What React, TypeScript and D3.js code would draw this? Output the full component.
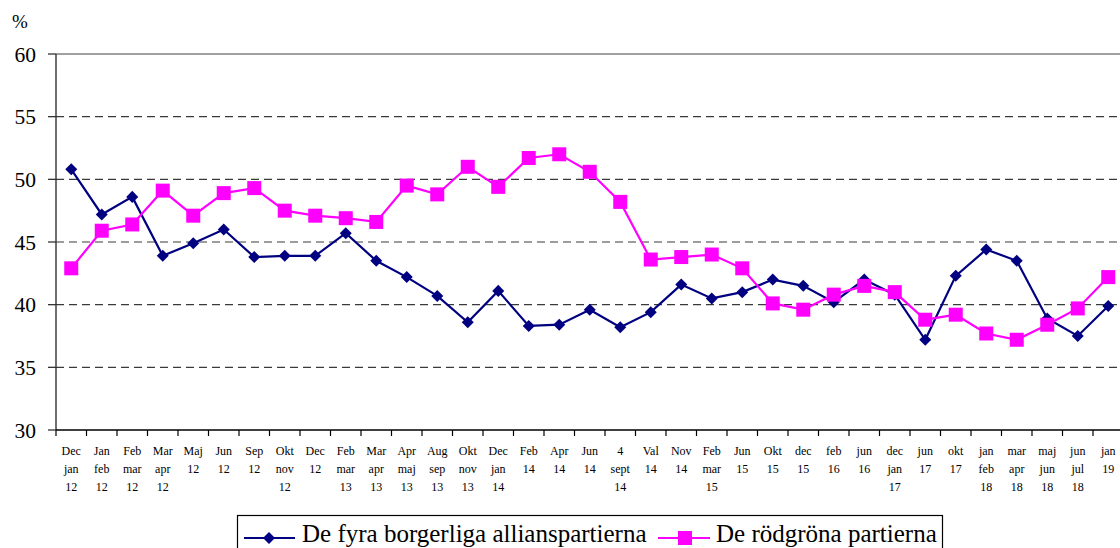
import React from "react";
import * as d3 from "d3";

const categories: string[][] = [
  ["Dec", "jan", "12"], ["Jan", "feb", "12"], ["Feb", "mar", "12"], ["Mar", "apr", "12"],
  ["Maj", "12"], ["Jun", "12"], ["Sep", "12"], ["Okt", "nov", "12"], ["Dec", "12"],
  ["Feb", "mar", "13"], ["Mar", "apr", "13"], ["Apr", "maj", "13"], ["Aug", "sep", "13"],
  ["Okt", "nov", "13"], ["Dec", "jan", "14"], ["Feb", "14"], ["Apr", "14"], ["Jun", "14"],
  ["4", "sept", "14"], ["Val", "14"], ["Nov", "14"], ["Feb", "mar", "15"], ["Jun", "15"],
  ["Okt", "15"], ["dec", "15"], ["feb", "16"], ["jun", "16"], ["dec", "jan", "17"],
  ["jun", "17"], ["okt", "17"], ["jan", "feb", "18"], ["mar", "apr", "18"],
  ["maj", "jun", "18"], ["jun", "jul", "18"], ["jan", "19"],
];

const alliansen: number[] = [
  50.8, 47.2, 48.6, 43.9, 44.9, 46.0, 43.8, 43.9, 43.9, 45.7, 43.5, 42.2, 40.7, 38.6, 41.1,
  38.3, 38.4, 39.6, 38.2, 39.4, 41.6, 40.5, 41.0, 42.0, 41.5, 40.2, 42.0, 40.8, 37.2, 42.3,
  44.4, 43.5, 38.9, 37.5, 39.9,
];

const rodgrona: number[] = [
  42.9, 45.9, 46.4, 49.1, 47.1, 48.9, 49.3, 47.5, 47.1, 46.9, 46.6, 49.5, 48.8, 51.0, 49.4,
  51.7, 52.0, 50.6, 48.2, 43.6, 43.8, 44.0, 42.9, 40.1, 39.6, 40.8, 41.5, 41.0, 38.8, 39.2,
  37.7, 37.2, 38.4, 39.7, 42.2,
];

const yTicks: number[] = [30, 35, 40, 45, 50, 55, 60];
const seriesNames: string[] = ["De fyra borgerliga allianspartierna", "De rödgröna partierna"];

const W = 1120;
const H = 548;
const FONT = "Liberation Serif, DejaVu Serif, serif";
const BLUE = "#000080";
const PINK = "#FF00FF";

export default function App() {
  const x = d3.scaleBand<number>().domain(d3.range(categories.length)).range([56, 1123.5]);
  const y = d3.scaleLinear().domain([30, 60]).range([430, 54]);
  const cx = (i: number) => (x(i) as number) + x.bandwidth() / 2;
  const line = d3.line<number>().x((_, i) => cx(i)).y((d) => y(d));
  const diamond = d3.symbol().type(d3.symbolDiamond2).size(92)();

  return (
    <svg width={W} height={H} style={{ position: "absolute", left: 0, top: 0, background: "#fff", fontFamily: FONT }}>
      {/* gridlines */}
      {yTicks.filter((t) => t !== 30 && t !== 60).map((t) => (
        <line key={t} x1={56} x2={1124} y1={y(t)} y2={y(t)} stroke="#3a3a3a" strokeWidth={1.2}
          strokeDasharray="8,5" />
      ))}
      <line x1={56} x2={1124} y1={y(60)} y2={y(60)} stroke="#808080" strokeWidth={1.6} />
      {/* y axis */}
      <line x1={56} x2={56} y1={y(60)} y2={y(30)} stroke="#333" strokeWidth={1.4} />
      {yTicks.map((t) => (
        <g key={t}>
          <line x1={48} x2={56} y1={y(t)} y2={y(t)} stroke="#333" strokeWidth={1.3} />
          <text x={36} y={y(t)} dy="0.35em" textAnchor="end" fontSize={21.5}>{t}</text>
        </g>
      ))}
      <text x={12} y={28} fontSize={19}>%</text>
      {/* x axis */}
      <line x1={56} x2={1124} y1={y(30)} y2={y(30)} stroke="#000" strokeWidth={1.3} />
      {categories.map((c, i) => (
        <g key={i}>
          <line x1={x(i) as number} x2={x(i) as number} y1={430} y2={436} stroke="#000" strokeWidth={1.2} />
          {c.map((s, k) => (
            <text key={k} x={cx(i)} y={455 + k * 18} textAnchor="middle" fontSize={12}>{s}</text>
          ))}
        </g>
      ))}
      {/* series */}
      <path d={line(alliansen) || ""} fill="none" stroke={BLUE} strokeWidth={2.2} />
      <path d={line(rodgrona) || ""} fill="none" stroke={PINK} strokeWidth={2.2} />
      {alliansen.map((v, i) => (
        <path key={"a" + i} d={diamond} transform={`translate(${cx(i)},${y(v)})`} fill={BLUE} />
      ))}
      {rodgrona.map((v, i) => (
        <rect key={"r" + i} x={cx(i) - 7} y={y(v) - 7} width={14} height={14} fill={PINK} />
      ))}
      {/* legend */}
      <rect x={237.5} y={515.5} width={705} height={40} fill="#fff" stroke="#000" strokeWidth={1.2} />
      <line x1={244} x2={295} y1={538} y2={538} stroke={BLUE} strokeWidth={2.2} />
      <path d={diamond} transform="translate(269,538)" fill={BLUE} />
      <text x={302} y={542} fontSize={25}>{seriesNames[0]}</text>
      <line x1={658} x2={710} y1={538} y2={538} stroke={PINK} strokeWidth={2.2} />
      <rect x={678} y={531} width={14} height={14} fill={PINK} />
      <text x={716} y={542} fontSize={25}>{seriesNames[1]}</text>
    </svg>
  );
}
